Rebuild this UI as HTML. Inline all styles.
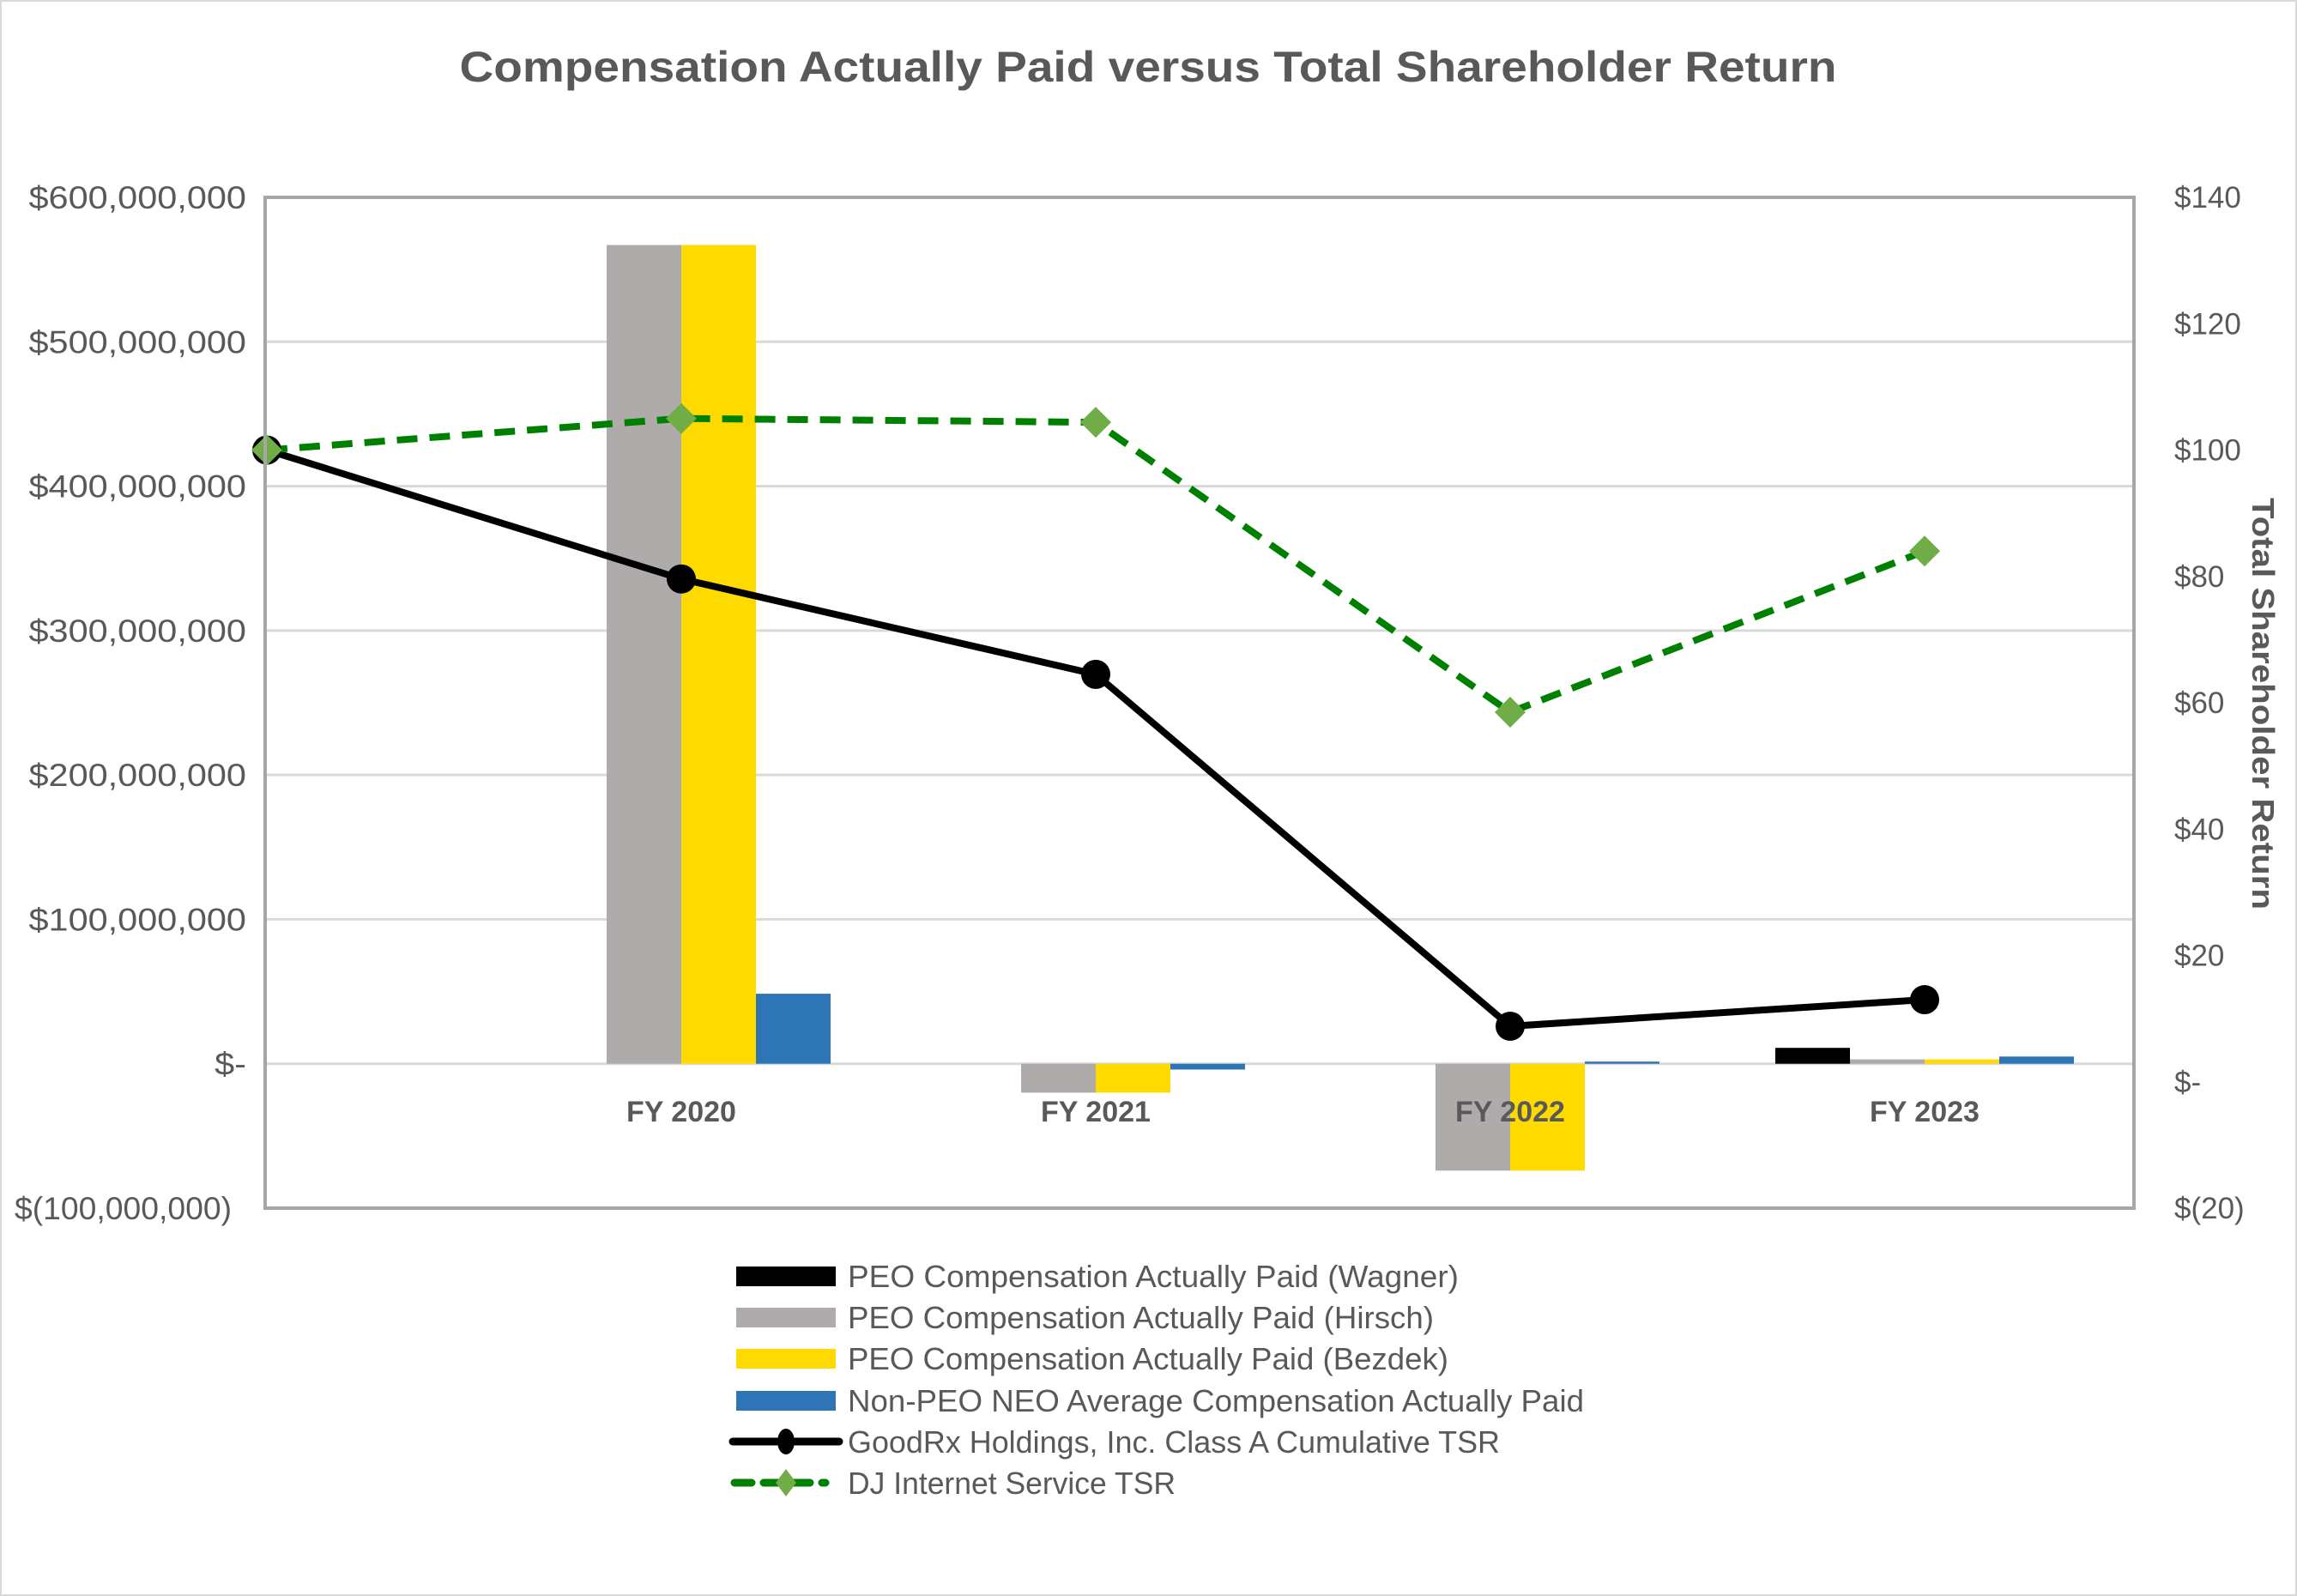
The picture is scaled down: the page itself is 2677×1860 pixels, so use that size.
<!DOCTYPE html>
<html><head><meta charset="utf-8"><style>
html,body{margin:0;padding:0;background:#fff}
svg{display:block;font-family:"Liberation Sans",sans-serif}
</style></head><body>
<svg id="chart" width="2677" height="1860" viewBox="0 0 2677 1860">
<rect x="1" y="1" width="2675" height="1858" fill="#fff" stroke="#d9d9d9" stroke-width="2"/>
<text x="1338" y="95" text-anchor="middle" font-size="50" font-weight="bold" fill="#595959" textLength="1605" lengthAdjust="spacingAndGlyphs">Compensation Actually Paid versus Total Shareholder Return</text>
<g id="grid"></g>
<g id="bars"></g>
<g id="lines"></g>
<g id="axes"></g>
<text transform="translate(2625,820) rotate(90)" text-anchor="middle" font-size="36" font-weight="bold" fill="#595959" textLength="480" lengthAdjust="spacingAndGlyphs">Total Shareholder Return</text>
<g id="legend"></g>
</svg>
<script>
const categories = ["", "FY 2020", "FY 2021", "FY 2022", "FY 2023"];
const wagner = [0, 0, 0, 0, 11];
const hirsch = [0, 567, -20, -74, 3];
const bezdek = [0, 567, -20, -74, 3];
const nonPeo = [0, 48.5, -4, 1.5, 5];
const goodrxTsr = [100, 79.6, 64.5, 8.8, 13];
const djTsr = [100, 105, 104.4, 58.5, 84];
const leftTicks = [600, 500, 400, 300, 200, 100, 0, -100];
const leftTickLabels = ["$600,000,000","$500,000,000","$400,000,000","$300,000,000","$200,000,000","$100,000,000","$-","$(100,000,000)"];
const rightTicks = [140, 120, 100, 80, 60, 40, 20, 0, -20];
const rightTickLabels = ["$140","$120","$100","$80","$60","$40","$20","$-","$(20)"];
const legendLabels = ["PEO Compensation Actually Paid (Wagner)","PEO Compensation Actually Paid (Hirsch)","PEO Compensation Actually Paid (Bezdek)","Non-PEO NEO Average Compensation Actually Paid","GoodRx Holdings, Inc. Class A Cumulative TSR","DJ Internet Service TSR"];

const NS = "http://www.w3.org/2000/svg";
const L = 309, R = 2487, T = 230, B = 1408;
const yL = v => T + (600 - v) / 700 * (B - T);
const yR = v => T + (140 - v) / 160 * (B - T);
const xC = i => 311 + i * 483;
const BW = 87;
function mk(tag, attrs, parent){const e=document.createElementNS(NS,tag);for(const k in attrs)e.setAttribute(k,attrs[k]);parent.appendChild(e);return e;}
const grid=document.getElementById('grid'), bars=document.getElementById('bars'), lines=document.getElementById('lines'), axes=document.getElementById('axes'), legend=document.getElementById('legend');

leftTicks.forEach((v,i)=>{
  if(v<600 && v>-100){const g=mk('line',{x1:L,x2:R,y1:yL(v),y2:yL(v),stroke:'#d9d9d9','stroke-width':3},grid);
  
  }
  const last = i===leftTicks.length-1;
  const t=mk('text',{x:last?270:287,y:yL(v)+13,'text-anchor':'end','font-size':37,fill:'#595959'},axes);
  t.textContent=leftTickLabels[i];
  
  
  const w=t.getComputedTextLength();
  t.setAttribute('textLength',last?253:w*1.12);
  t.setAttribute('lengthAdjust','spacingAndGlyphs');
});
rightTicks.forEach((v,i)=>{
  const t=mk('text',{x:2534,y:yR(v)+12,'font-size':35,fill:'#595959'},axes);
  t.textContent=rightTickLabels[i];
  
  
});
const frame=mk('rect',{x:L,y:T,width:R-L,height:B-T,fill:'none',stroke:'#a6a6a6','stroke-width':4},axes);



const series=[[wagner,'#000000',-2],[hirsch,'#afabab',-1],[bezdek,'#ffda00',0],[nonPeo,'#2e75b6',1]];
categories.forEach((c,i)=>{
  series.forEach(([arr,col,off])=>{
    const v=arr[i]; if(!v) return;
    const y0=yL(0), y1=yL(v);
    const r=mk('rect',{x:xC(i)+off*BW,y:Math.min(y0,y1),width:BW,height:Math.abs(y1-y0),fill:col},bars);
    
    
  });
  if(c){const t=mk('text',{x:xC(i),y:1307,'text-anchor':'middle','font-size':34,'font-weight':'bold',fill:'#595959'},axes);
  t.textContent=c;
  
  }
});

const ptsG=goodrxTsr.map((v,i)=>xC(i)+','+yR(v)).join(' ');
const lg=mk('polyline',{points:ptsG,fill:'none',stroke:'#000','stroke-width':8},lines);


const ptsD=djTsr.map((v,i)=>xC(i)+','+yR(v)).join(' ');
const ld=mk('polyline',{points:ptsD,fill:'none',stroke:'#008000','stroke-width':8,'stroke-dasharray':'24 14'},lines);


goodrxTsr.forEach((v,i)=>{
  const c=mk('circle',{cx:xC(i),cy:yR(v),r:17,fill:'#000'},lines);
  
  
});
djTsr.forEach((v,i)=>{
  const x=xC(i),y=yR(v);
  const p=mk('polygon',{points:`${x},${y-18} ${x+18},${y} ${x},${y+18} ${x-18},${y}`,fill:'#70ad47'},lines);
  
  
});

const legY=[1487,1535,1583,1632,1680,1728];
const legW=[712,683,700,858,760,382];
legendLabels.forEach((lab,i)=>{
  const y=legY[i];
  if(i<4){const col=series[i][1];
    const s=mk('rect',{x:858,y:y-11,width:116,height:23,fill:col},legend);
    
    
  } else if(i===4){
    const s=mk('line',{x1:854,x2:978,y1:y,y2:y,stroke:'#000','stroke-width':9,'stroke-linecap':'round'},legend);
    
    
    const c=mk('ellipse',{cx:916,cy:y,rx:10,ry:15,fill:'#000'},legend);
    
    
  } else {
    const s=mk('line',{x1:856,x2:962,y1:y,y2:y,stroke:'#008000','stroke-width':9,'stroke-dasharray':'20 14','stroke-linecap':'round'},legend);
    
    
    const p=mk('polygon',{points:`916,${y-16} 928,${y} 916,${y+16} 904,${y}`,fill:'#70ad47'},legend);
    
    
  }
  const t=mk('text',{x:988,y:y+13,'font-size':36,fill:'#595959',textLength:legW[i],lengthAdjust:'spacingAndGlyphs'},legend);
  t.textContent=lab;
  
  
});
</script>
</body></html>
